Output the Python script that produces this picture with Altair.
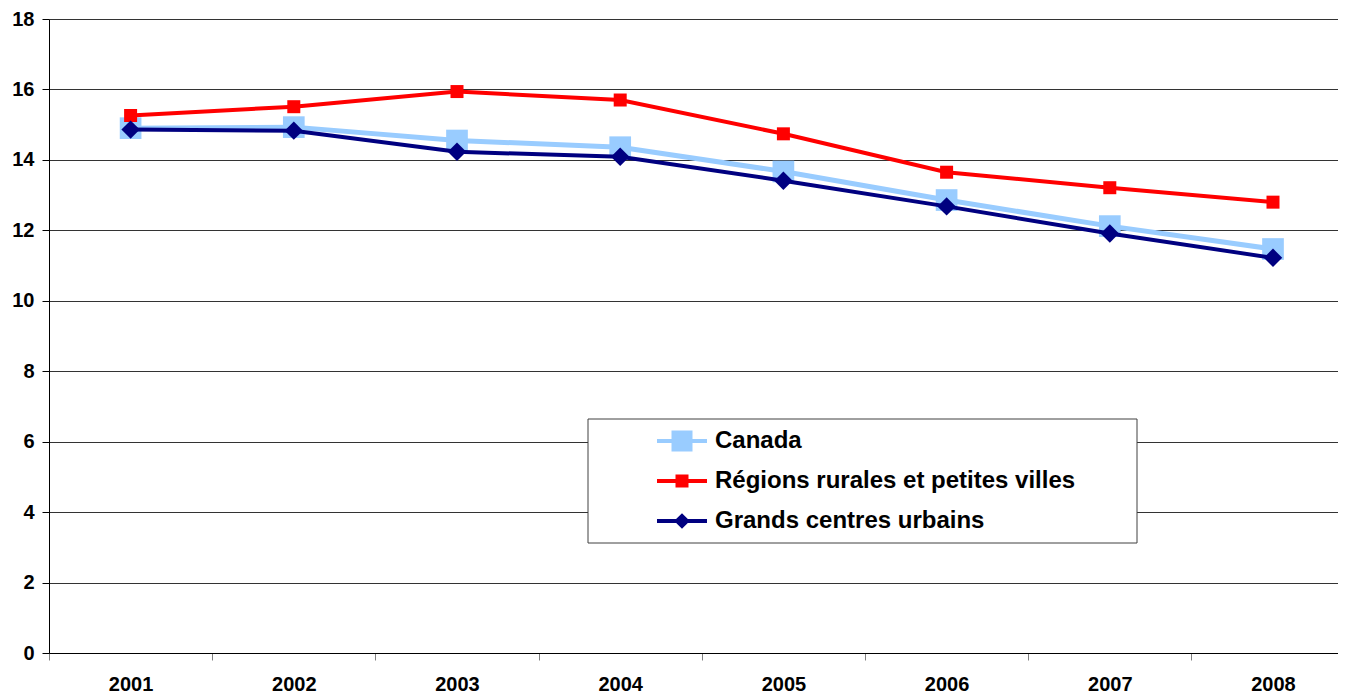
import altair as alt
import pandas as pd

years = [2001, 2002, 2003, 2004, 2005, 2006, 2007, 2008]
series_names = ["Canada", "Régions rurales et petites villes", "Grands centres urbains"]
canada = [14.90, 14.93, 14.55, 14.36, 13.67, 12.86, 12.12, 11.47]
rural = [15.26, 15.51, 15.94, 15.70, 14.74, 13.65, 13.21, 12.80]
urban = [14.86, 14.83, 14.23, 14.09, 13.41, 12.68, 11.91, 11.22]
y_ticks = [0, 2, 4, 6, 8, 10, 12, 14, 16, 18]

colors = ["#99CCFF", "#FF0000", "#000080"]
marker_shapes = ["square", "square", "diamond"]
marker_sizes = [470, 169, 340]
line_widths = [5, 4, 4]
legend_paths = [
    "M-1,0L1,0M-0.34,-0.34L0.34,-0.34L0.34,0.34L-0.34,0.34Z",
    "M-1,0L1,0M-0.18,-0.18L0.18,-0.18L0.18,0.18L-0.18,0.18Z",
    "M-1,0L1,0M-0.2,0L0,-0.2L0.2,0L0,0.2Z",
]

rows = []
for name, vals in zip(series_names, [canada, rural, urban]):
    for yr, v in zip(years, vals):
        rows.append({"year": yr, "series": name, "value": v})
df = pd.DataFrame(rows)

FONT = "Liberation Sans"
W, H = 1289, 634
step = 163.2
x_scale = alt.Scale(domain=[2000.5, 2000.5 + W / step], nice=False, zero=False)
y_scale = alt.Scale(domain=[0, 18], nice=False)

x_enc = alt.X(
    "year:Q",
    scale=x_scale,
    axis=alt.Axis(
        title=None,
        values=[y - 0.5 for y in years],
        labelExpr="toString(datum.value + 0.5)",
        labelOffset=step / 2,
        labelFlush=False,
        labelOverlap=False,
        labelAlign="center",
        grid=False,
        tickSize=7,
        tickColor="#808080",
        domainColor="#000000",
        labelPadding=14,
        labelFont=FONT,
        labelFontSize=20,
        labelFontWeight="bold",
        labelColor="#000000",
    ),
)
y_enc = alt.Y(
    "value:Q",
    scale=y_scale,
    axis=alt.Axis(
        title=None,
        values=y_ticks,
        grid=True,
        gridColor="#333333",
        gridWidth=1,
        tickSize=7,
        tickColor="#000000",
        domainColor="#000000",
        labelPadding=8,
        labelFont=FONT,
        labelFontSize=20,
        labelFontWeight="bold",
        labelColor="#000000",
    ),
)

color_scale = alt.Scale(domain=series_names, range=colors)

box = alt.Chart(pd.DataFrame({"k": [0]})).mark_rect(
    fill="white", stroke="#404040", strokeWidth=1
).encode(x=alt.value(539), x2=alt.value(1088), y=alt.value(400), y2=alt.value(524))

base = alt.Chart(df).encode(x=x_enc, y=y_enc)

series_layers = []
for name, col, shp, sz, lw in zip(series_names, colors, marker_shapes, marker_sizes, line_widths):
    sub = base.transform_filter(alt.datum.series == name)
    series_layers.append(sub.mark_line(color=col, strokeWidth=lw))
    series_layers.append(sub.mark_point(filled=True, opacity=1, color=col, shape=shp, size=sz))

leg = alt.Legend(
    title=None,
    orient="none",
    legendX=606,
    legendY=402,
    padding=0,
    labelFont=FONT,
    labelFontSize=24,
    labelFontWeight="bold",
    labelColor="#000000",
    labelOffset=6,
    labelLimit=600,
    symbolSize=2500,
    symbolStrokeWidth=4,
    symbolOpacity=1,
    clipHeight=40,
    rowPadding=0,
)

legend_layer = base.mark_point(filled=True, opacity=0, strokeWidth=4).encode(
    color=alt.Color("series:N", scale=color_scale, legend=leg, sort=series_names),
    stroke=alt.Stroke("series:N", scale=color_scale, legend=leg, sort=series_names),
    shape=alt.Shape("series:N", scale=alt.Scale(domain=series_names, range=legend_paths), legend=leg, sort=series_names),
)

chart = (
    alt.layer(box, *series_layers, legend_layer)
    .properties(
        width=W,
        height=H,
        autosize=alt.AutoSizeParams(type="none"),
        padding={"left": 41, "top": 11, "right": 0, "bottom": 41},
    )
    .configure_view(stroke=None)
    .configure(background="white")
)

chart.save("out.html", embed_options={"renderer": "svg", "actions": False})
